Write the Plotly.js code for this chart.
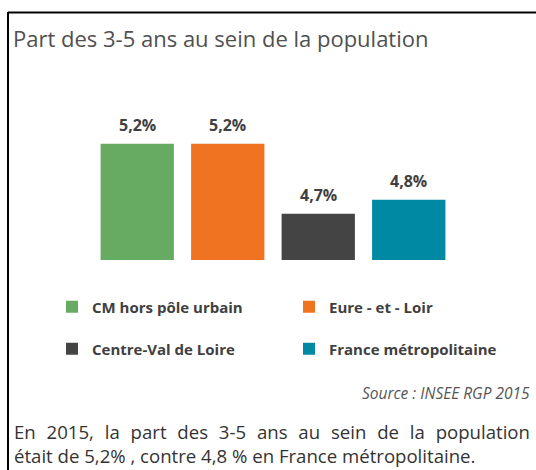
<!DOCTYPE html>
<html>
<head>
<meta charset="utf-8">
<script src="https://cdn.plot.ly/plotly-3.0.1.min.js"></script>
<style>html,body{margin:0;padding:0;background:#fff;}#chart{width:536px;height:470px;}</style>
</head>
<body>
<div id="chart"></div>
<script>
// Data
const categories = ["CM hors pôle urbain", "Eure - et - Loir", "Centre-Val de Loire", "France métropolitaine"];
const values = [5.2, 5.2, 4.7, 4.8];
const colors = ["#67ab63", "#ef7321", "#444444", "#0089a3"];
const legendIds = ["legend", "legend2", "legend3", "legend4"];
const titleText = "Part des 3-5 ans au sein de la population";
const sourceText = "Source : INSEE RGP 2015";
const noteLine1 = "En 2015, la part des 3-5 ans au sein de la population";
const noteLine2 = "était de 5,2% , contre 4,8 % en France métropolitaine.";

const W = 536, H = 470;
const M = {l: 92, r: 82, t: 100, b: 210};
const PW = W - M.l - M.r, PH = H - M.t - M.b;
const px = x => (x - M.l) / PW;
const py = y => (H - M.b - y) / PH;

const FONT = "Open Sans, Noto Sans, sans-serif";

const traces = categories.map((c, i) => ({
  type: "bar",
  name: c,
  x: [c],
  y: [values[i]],
  marker: {color: colors[i], line: {width: 0}},
  legend: legendIds[i],
  hoverinfo: "skip"
}));

const fmt = v => v.toFixed(1).replace(".", ",") + "%";

const annotations = categories.map((c, i) => ({
  x: c, y: values[i], xref: "x", yref: "y",
  text: "<b>" + fmt(values[i]) + "</b>",
  showarrow: false, yanchor: "bottom", yshift: 6,
  font: {family: FONT, size: 16, color: "#404040"}
}));

annotations.push({
  xref: "paper", yref: "paper", x: px(532), y: py(393),
  xanchor: "right", yanchor: "middle", showarrow: false,
  text: "<i>" + sourceText + "</i>",
  font: {family: FONT, size: 15.5, color: "#555555"}
});
annotations.push({
  xref: "paper", yref: "paper", x: px(12), y: py(443),
  xanchor: "left", yanchor: "middle", align: "left", showarrow: false,
  text: "<span style='word-spacing:6px'>" + noteLine1 + "</span><br>" + noteLine2,
  font: {family: FONT, size: 18.6, color: "#333333"}
});

const legendBase = {
  orientation: "v",
  xanchor: "left", yanchor: "middle", bgcolor: "rgba(0,0,0,0)",
  font: {family: FONT, size: 15, color: "#404040", weight: "bold"},
  itemclick: false, itemdoubleclick: false
};
// legend anchor positions (pixel): column x, row y
const legendPos = [[52, 307], [289, 307], [52, 349], [289, 349]];

const layout = {
  width: W, height: H,
  margin: M,
  paper_bgcolor: "#ffffff", plot_bgcolor: "#ffffff",
  showlegend: true,
  barmode: "relative",
  bargap: 0.19,
  title: {
    text: titleText, xref: "container", yref: "container",
    x: 13 / W, xanchor: "left", y: 1 - 39 / H, yanchor: "middle",
    font: {family: FONT, size: 22, color: "#505050"}
  },
  xaxis: {type: "category", showticklabels: false, showgrid: false, zeroline: false, showline: false, fixedrange: true},
  yaxis: {range: [4.37, 4.37 + PH / 140], visible: false, showgrid: false, zeroline: false, fixedrange: true},
  annotations: annotations,
  shapes: [
    {type: "line", xref: "paper", yref: "paper", x0: px(8), x1: px(8), y0: py(12), y1: py(H), line: {color: "#000", width: 2}},
    {type: "line", xref: "paper", yref: "paper", x0: px(8), x1: px(W), y0: py(12.5), y1: py(12.5), line: {color: "#000", width: 2}}
  ]
};
legendIds.forEach((id, i) => {
  layout[id] = Object.assign({}, legendBase, {x: px(legendPos[i][0]), y: py(legendPos[i][1])});
});

Plotly.newPlot("chart", traces, layout, {displayModeBar: false, staticPlot: true});
</script>
</body>
</html>
